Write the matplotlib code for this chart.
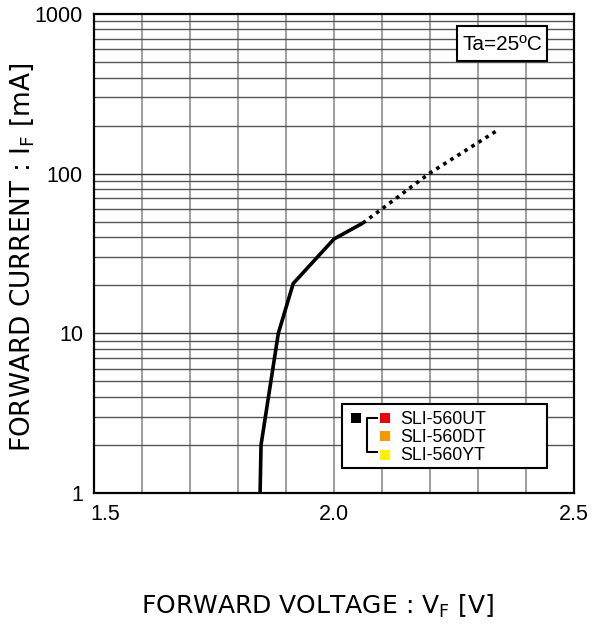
import numpy as np
import matplotlib.pyplot as plt
from matplotlib.patches import Rectangle
from matplotlib.lines import Line2D
import matplotlib.transforms as mtransforms

# solid (measured) part of the curve
vf_solid = [1.846, 1.848, 1.884, 1.915, 2.0, 2.06]
if_solid = [1.0, 2.0, 10.0, 20.5, 39.0, 49.0]
# dotted (extrapolated) part
vf_dot = [2.06, 2.2, 2.342]
if_dot = [49.0, 101.0, 188.0]

x_ticks = [1.5, 2.0, 2.5]
x_ticklabels = ['1.5', '2.0', '2.5']
y_ticks = [1, 10, 100, 1000]
y_ticklabels = ['1', '10', '100', '1000']

legend_names = ['SLI-560UT', 'SLI-560DT', 'SLI-560YT']
legend_colors = ['#e60012', '#f39800', '#fff100']

W, H = 592, 625
fig = plt.figure(figsize=(W / 100, H / 100), dpi=100)
ax = fig.add_axes([94 / W, 1 - 493 / H, 480 / W, 479 / H])


def px(x, y):
    # pixel (from top-left) -> figure fraction
    return x / W, 1 - y / H


ax.set_xlim(1.5, 2.5)
ax.set_yscale('log')
ax.set_ylim(1, 1000)

# grid
for v in np.arange(1.6, 2.45, 0.1):
    ax.axvline(v, color='#8c8c8c', lw=1.2, zorder=1)
for dec in [1, 10, 100]:
    for m in range(2, 10):
        ax.axhline(dec * m, color='#555555', lw=1.0, zorder=1)
    if dec > 1:
        ax.axhline(dec, color='#333333', lw=1.0, zorder=1)

ax.plot(vf_solid, if_solid, color='black', lw=2.6, zorder=3, solid_capstyle='butt')
ax.plot(vf_dot, if_dot, color='black', lw=2.6, zorder=3,
        linestyle=(0, (1, 1.3)), dash_capstyle='butt')

ax.set_xticks(x_ticks)
ax.set_xticklabels(x_ticklabels, fontsize=15.5, family='Liberation Sans')
ax.set_yticks(y_ticks)
ax.set_yticklabels(y_ticklabels, fontsize=15.5, family='Liberation Sans')
ax.minorticks_off()
ax.tick_params(length=0, pad=8)
ax.tick_params(axis='x', pad=8)
# nudge first x label right like the original
lab0 = ax.get_xticklabels()[0]
lab0.set_transform(lab0.get_transform() + mtransforms.ScaledTranslation(0.11, 0, fig.dpi_scale_trans))

for s in ax.spines.values():
    s.set_linewidth(1.6)
    s.set_zorder(5)

fig.text(*px(317, 606), r'FORWARD VOLTAGE : $\mathregular{V_F}$ [V]', fontsize=18,
         ha='center', va='center', family='DejaVu Sans')
fig.text(*px(22, 257), r'FORWARD CURRENT : $\mathregular{I_F}$ [mA]', fontsize=19,
         ha='center', va='center', rotation=90, family='DejaVu Sans')

# Ta box
x0, y0 = px(457, 61)
x1, y1 = px(547, 26)
fig.patches.append(Rectangle((x0, y0), x1 - x0, y1 - y0, transform=fig.transFigure,
                             facecolor='white', edgecolor='black', lw=1.5, zorder=6))
fig.text(*px(502, 44), 'Ta=25ºC', fontsize=15, ha='center', va='center',
         family='Liberation Sans', zorder=7)

# legend box
x0, y0 = px(342, 468)
x1, y1 = px(547, 404)
fig.patches.append(Rectangle((x0, y0), x1 - x0, y1 - y0, transform=fig.transFigure,
                             facecolor='white', edgecolor='black', lw=1.5, zorder=6))
sq = 10
bx, by = px(356 - sq / 2, 418 + sq / 2)
fig.patches.append(Rectangle((bx, by), sq / W, sq / H, transform=fig.transFigure,
                             facecolor='black', edgecolor='none', zorder=7))
# bracket
xs = [377, 367, 367, 377]
ys = [418, 418, 452, 452]
fig.lines.append(Line2D([x / W for x in xs], [1 - y / H for y in ys],
                        transform=fig.transFigure, color='black', lw=1.5, zorder=7))
for i, (name, col) in enumerate(zip(legend_names, legend_colors)):
    yc = 418 + i * 18.3
    cx, cy = px(384.5 - sq / 2, yc + sq / 2)
    fig.patches.append(Rectangle((cx, cy), sq / W, sq / H, transform=fig.transFigure,
                                 facecolor=col, edgecolor='none', zorder=7))
    fig.text(*px(400, yc + 1), name, fontsize=12.8, ha='left', va='center',
             family='Liberation Sans', zorder=7)

fig.savefig('out.png', dpi=100)
